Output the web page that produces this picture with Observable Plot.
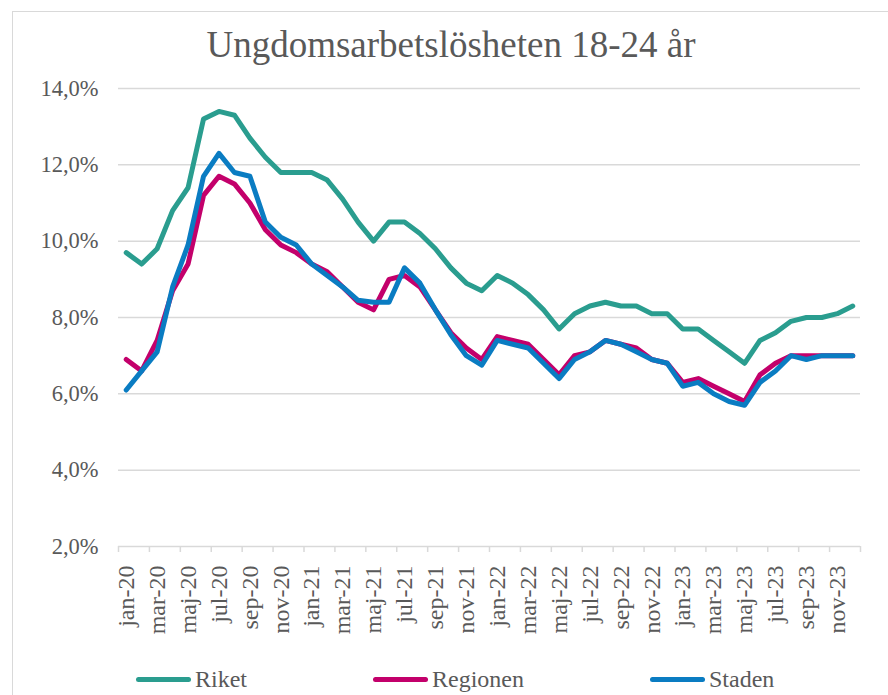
<!DOCTYPE html>
<html>
<head>
<meta charset="utf-8">
<script src="https://cdn.jsdelivr.net/npm/d3@7"></script>
<script src="https://cdn.jsdelivr.net/npm/@observablehq/plot@0.6"></script>
<style>
  html, body { margin: 0; padding: 0; background: #fff; }
  #wrap { position: relative; width: 888px; height: 695px; overflow: hidden; font-family: "Liberation Serif", "Times New Roman", serif; color: #595959; }
  #frame { position: absolute; left: 12px; top: 11px; width: 900px; height: 720px; border: 1.5px solid #d9d9d9; box-sizing: border-box; }
  #title { position: relative; height: 72px; box-sizing: border-box; padding-top: 23px; padding-left: 14px; text-align: center; font-size: 37px; line-height: normal; }
  #chart { position: relative; }
  .leg { position: absolute; top: 663px; display: flex; align-items: center; font-size: 24px; line-height: 32px; }
  .sw { width: 55px; height: 5px; border-radius: 3px; margin-right: 4px; }
</style>
</head>
<body>
<div id="wrap">
  <div id="frame"></div>
  <div id="title">Ungdomsarbetslösheten 18-24 år</div>
  <div id="chart"></div>
  <div id="legend"></div>
</div>
<script>
const months = ["jan-20","feb-20","mar-20","apr-20","maj-20","jun-20","jul-20","aug-20","sep-20","okt-20","nov-20","dec-20",
  "jan-21","feb-21","mar-21","apr-21","maj-21","jun-21","jul-21","aug-21","sep-21","okt-21","nov-21","dec-21",
  "jan-22","feb-22","mar-22","apr-22","maj-22","jun-22","jul-22","aug-22","sep-22","okt-22","nov-22","dec-22",
  "jan-23","feb-23","mar-23","apr-23","maj-23","jun-23","jul-23","aug-23","sep-23","okt-23","nov-23","dec-23"];

const riket = [9.7,9.4,9.8,10.8,11.4,13.2,13.4,13.3,12.7,12.2,11.8,11.8,
  11.8,11.6,11.1,10.5,10.0,10.5,10.5,10.2,9.8,9.3,8.9,8.7,
  9.1,8.9,8.6,8.2,7.7,8.1,8.3,8.4,8.3,8.3,8.1,8.1,
  7.7,7.7,7.4,7.1,6.8,7.4,7.6,7.9,8.0,8.0,8.1,8.3];

const regionen = [6.9,6.6,7.4,8.7,9.4,11.2,11.7,11.5,11.0,10.3,9.9,9.7,
  9.4,9.2,8.8,8.4,8.2,9.0,9.1,8.8,8.2,7.6,7.2,6.9,
  7.5,7.4,7.3,6.9,6.5,7.0,7.1,7.4,7.3,7.2,6.9,6.8,
  6.3,6.4,6.2,6.0,5.8,6.5,6.8,7.0,7.0,7.0,7.0,7.0];

const staden = [6.1,6.6,7.1,8.8,9.9,11.7,12.3,11.8,11.7,10.5,10.1,9.9,
  9.4,9.1,8.8,8.45,8.4,8.4,9.3,8.9,8.2,7.55,7.0,6.75,
  7.4,7.3,7.2,6.8,6.4,6.9,7.1,7.4,7.3,7.1,6.9,6.8,
  6.2,6.3,6.0,5.8,5.7,6.3,6.6,7.0,6.9,7.0,7.0,7.0];

const seriesNames = ["Riket", "Regionen", "Staden"];
const seriesColors = ["#2a9d8f", "#c3006b", "#0a7cc2"];
const yTicks = [2, 4, 6, 8, 10, 12, 14];

const seriesValues = [riket, regionen, staden];
const data = [];
seriesNames.forEach((name, s) => {
  seriesValues[s].forEach((v, i) => data.push({series: name, i, v}));
});

const labelTicks = months.map((m, i) => i).filter(i => i % 2 === 0);
const boundaryTicks = d3.range(-0.5, months.length + 0.5, 2);

const chart = Plot.plot({
  width: 888,
  height: 580,
  marginLeft: 118,
  marginRight: 28,
  marginTop: 16,
  marginBottom: 106,
  style: {fontFamily: "'Liberation Serif', 'Times New Roman', serif", fontSize: "22px", color: "#595959", background: "transparent", overflow: "visible"},
  x: {type: "linear", domain: [-0.5, months.length - 0.5]},
  y: {domain: [2, 14]},
  color: {domain: seriesNames, range: seriesColors},
  marks: [
    Plot.ruleY(yTicks, {stroke: "#d9d9d9", strokeWidth: 1.5}),
    Plot.axisY({ticks: yTicks, tickSize: 0, tickPadding: 20, fontSize: 22.5, tickFormat: d => d.toFixed(1).replace(".", ",") + "%", label: null}),
    Plot.axisX({ticks: boundaryTicks, tickSize: 6, tickFormat: () => "", stroke: "#d9d9d9", strokeWidth: 1.5, label: null}),
    Plot.axisX({ticks: labelTicks, tickSize: 0, tickPadding: 19, tickRotate: -90, fontSize: 24, tickFormat: i => months[i], label: null}),
    Plot.line(data, {x: "i", y: "v", stroke: "series", z: "series", strokeWidth: 5, strokeLinejoin: "round", strokeLinecap: "round", curve: "linear"})
  ]
});
document.getElementById("chart").appendChild(chart);

const legend = document.getElementById("legend");
const legendLeft = [136, 373, 650];
seriesNames.forEach((name, s) => {
  const item = document.createElement("div");
  item.className = "leg";
  item.style.left = legendLeft[s] + "px";
  const sw = document.createElement("div");
  sw.className = "sw";
  sw.style.background = seriesColors[s];
  const t = document.createElement("span");
  t.textContent = name;
  item.appendChild(sw);
  item.appendChild(t);
  legend.appendChild(item);
});
</script>
</body>
</html>
